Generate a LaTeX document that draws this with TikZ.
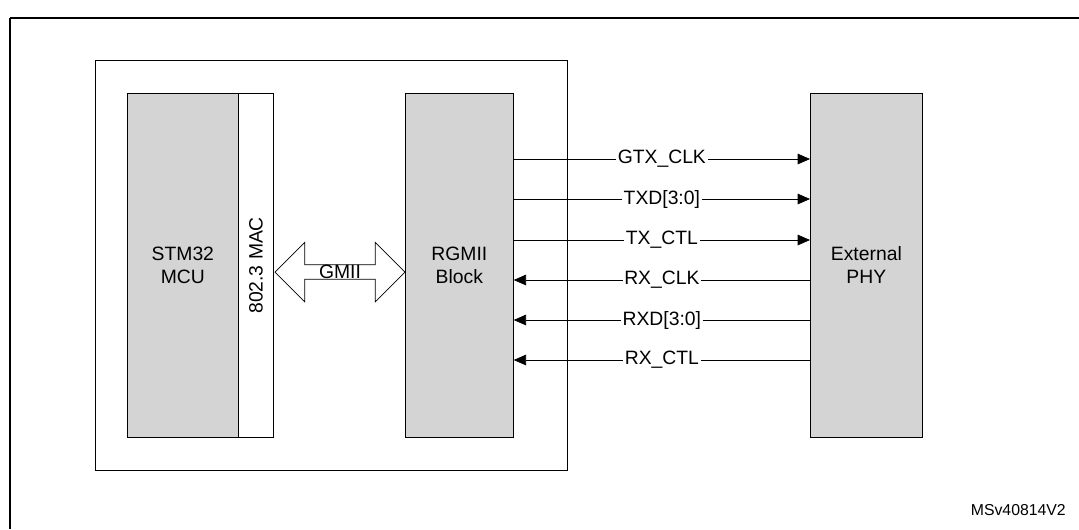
\documentclass[tikz,border=0pt]{standalone}
\usepackage{fontspec}
\setmainfont{Liberation Sans}
\usetikzlibrary{positioning,arrows.meta,shapes.arrows}

\begin{document}
\begin{tikzpicture}[x=0.02cm,y=-0.02cm,>={Triangle[length=7pt,width=6pt]},
  font=\fontsize{11}{13}\selectfont]
  \tikzstyle{block}=[draw=black,fill=black!17,inner sep=0pt]
  \tikzstyle{sig}=[fill=white,inner sep=1pt]
  \useasboundingbox (0,0) rectangle (1079,529);

  % Frames
  \draw[thick] (10,18) -- (10,529);
  \draw[thick] (10,18) -- (1079,18);
  \node[draw,minimum width=472*0.02cm,minimum height=410*0.02cm,anchor=north west] (chip) at (95,60) {};

  % Blocks
  \node[block,minimum width=111*0.02cm,minimum height=344*0.02cm,anchor=north west,align=center] (mcu) at (127,93) {STM32\\MCU};
  \node[draw,fill=white,minimum width=35*0.02cm,minimum height=344*0.02cm,anchor=north west] (mac) at (238,93) {};
  \node[rotate=90] at (mac.center) {802.3 MAC};
  \node[block,minimum width=108*0.02cm,minimum height=344*0.02cm,anchor=north west,align=center] (rgmii) at (405,93) {RGMII\\Block};
  \node[block,minimum width=112*0.02cm,minimum height=344*0.02cm,anchor=north west,align=center] (phy) at (810,93) {External\\PHY};

  % GMII
  \node[draw,double arrow,double arrow head extend=0.45cm,minimum height=130*0.02cm,minimum width=46*0.02cm,inner sep=0pt,fill=white] (gmii) at (340,272) {GMII};

  % Signals
  \foreach \y/\name in {159/GTX\_CLK,199/TXD[3:0],240/TX\_CTL}
    \draw[->] (rgmii.east |- 0,\y) -- node[sig,pos=0.5]{\name} (phy.west |- 0,\y);
  \foreach \y/\name in {280/RX\_CLK,320/RXD[3:0],360/RX\_CTL}
    \draw[->] (phy.west |- 0,\y) -- node[sig,pos=0.5]{\name} (rgmii.east |- 0,\y);

  \node[font=\fontsize{9}{10}\selectfont,anchor=south east] (ref) at (1072,522) {MSv40814V2};
\end{tikzpicture}
\end{document}
